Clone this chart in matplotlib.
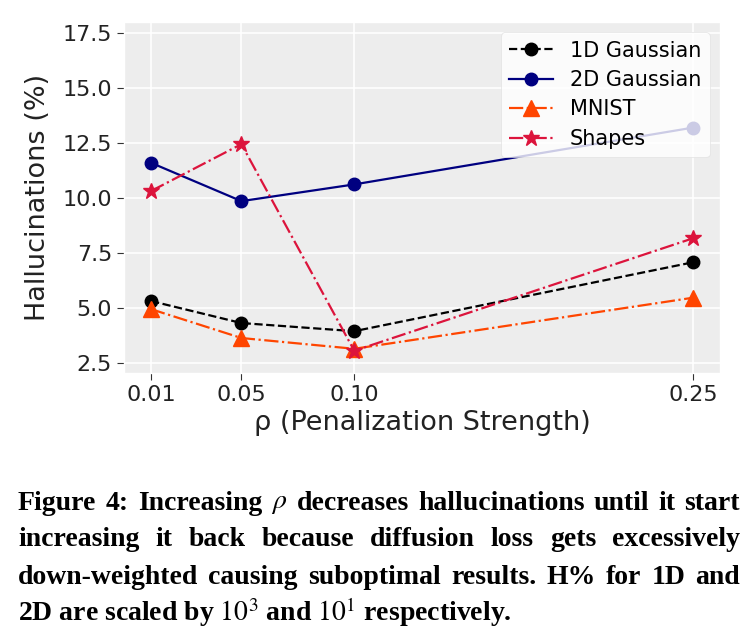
import matplotlib
matplotlib.use("Agg")
import matplotlib.pyplot as plt

plt.style.use("ggplot")

rho = [0.01, 0.05, 0.10, 0.25]
rho_labels = ["0.01", "0.05", "0.10", "0.25"]
g1d = [5.32, 4.32, 3.95, 7.08]
g2d = [11.6, 9.86, 10.62, 13.2]
mnist = [4.95, 3.64, 3.15, 5.47]
shapes = [10.32, 12.45, 3.06, 8.17]
yticks = [2.5, 5.0, 7.5, 10.0, 12.5, 15.0, 17.5]

caption_lines = [
    r"Figure 4: Increasing $\rho$ decreases hallucinations until it start",
    r"increasing it back because diffusion loss gets excessively",
    r"down-weighted causing suboptimal results. H% for 1D and",
    r"2D are scaled by $10^3$ and $10^1$ respectively.",
]

plt.rcParams["mathtext.fontset"] = "stix"

fig = plt.figure(figsize=(7.53, 6.34), dpi=100)
fig.patch.set_facecolor("white")
ax = fig.add_axes([124/753, 1-373/634, (720-124)/753, (373-22)/634])
ax.set_facecolor("#EDEDED")

ax.plot(rho, g1d, linestyle="--", color="black", marker="o", markersize=9, lw=1.6, label="1D Gaussian")
ax.plot(rho, g2d, linestyle="-", color="#000080", marker="o", markersize=9, lw=1.6, label="2D Gaussian")
ax.plot(rho, mnist, linestyle="-.", color="#FF4500", marker="^", markersize=11, lw=1.6, label="MNIST")
ax.plot(rho, shapes, linestyle="-.", color="#DC143C", marker="*", markersize=12, lw=1.6, label="Shapes")

ax.set_xticks(rho)
ax.set_xticklabels(rho_labels)
ax.set_yticks(yticks)
ax.set_ylim(2.05, 18.0)
ax.tick_params(labelsize=16, colors="#333333", length=5)
for t in ax.get_xticklabels() + ax.get_yticklabels():
    t.set_color("#222222")
ax.set_xlabel("ρ (Penalization Strength)", fontsize=19.5, color="#222222", labelpad=4)
ax.set_ylabel("Hallucinations (%)", fontsize=19.5, color="#222222", labelpad=8)
ax.grid(True, color="white", lw=1.2)

leg = ax.legend(loc="upper right", fontsize=15, framealpha=0.8, facecolor="white",
                edgecolor="#DDDDDD", borderaxespad=0.5, handlelength=2.1, labelspacing=0.45)

# caption, justified
fig.canvas.draw()
renderer = fig.canvas.get_renderer()
left_px, right_px = 18, 740
ys = [503, 540, 577, 612]
cap_props = dict(fontsize=20, fontweight="bold", family="Liberation Serif", color="black")
for i, (line, y) in enumerate(zip(caption_lines, ys)):
    yf = 1 - y / 634
    if i == len(caption_lines) - 1:
        fig.text(left_px / 753, yf, line, va="center", ha="left", **cap_props)
        continue
    words = []
    cur = ""
    inmath = False
    for ch in line:
        if ch == "$":
            inmath = not inmath
        if ch == " " and not inmath:
            words.append(cur)
            cur = ""
        else:
            cur += ch
    words.append(cur)
    texts = [fig.text(0, yf, w, va="center", ha="left", **cap_props) for w in words]
    widths = [t.get_window_extent(renderer).width for t in texts]
    total = right_px - left_px
    gap = (total - sum(widths)) / (len(words) - 1)
    x = left_px
    for t, w in zip(texts, widths):
        t.set_x(x / 753)
        x += w + gap

fig.savefig("out.png", dpi=100)
